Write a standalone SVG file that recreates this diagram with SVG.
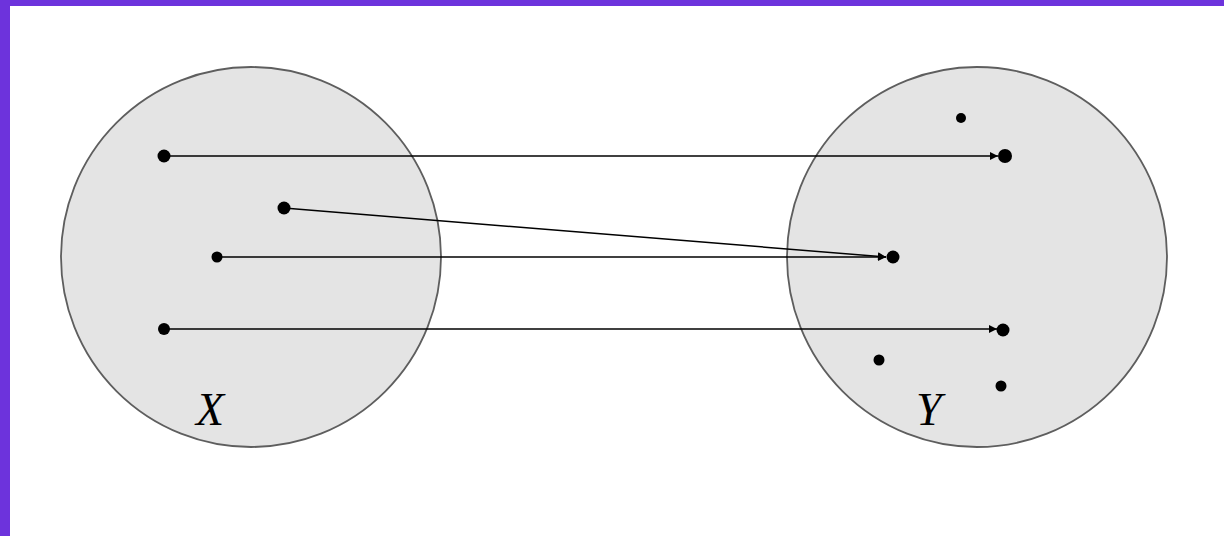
<svg xmlns="http://www.w3.org/2000/svg" width="1224" height="536" viewBox="0 0 1224 536">
<style>
.set{fill:#e4e4e4;stroke:#5e5e5e;stroke-width:1.8}
.pt{fill:#000}
.arr{stroke:#000;stroke-width:1.5;fill:none;marker-end:url(#ah)}
.lbl{font-family:"Liberation Serif",serif;font-style:italic;font-size:46px;fill:#000}
</style>
<defs>
<marker id="ah" viewBox="0 0 10 10" refX="10" refY="5" markerWidth="9" markerHeight="8" markerUnits="userSpaceOnUse" orient="auto">
<path d="M0,0 L10,5 L0,10 z" fill="#000"/>
</marker>
</defs>
<rect width="1224" height="536" fill="#fff"/>
<rect x="0" y="0" width="1224" height="6" fill="#6d33dc"/>
<rect x="0" y="0" width="10" height="536" fill="#6d33dc"/>
<g id="setX">
<circle class="set" cx="251" cy="257" r="190"/>
<circle class="pt" cx="164" cy="156" r="6.5"/>
<circle class="pt" cx="284" cy="208" r="6.5"/>
<circle class="pt" cx="217" cy="257" r="5.5"/>
<circle class="pt" cx="164" cy="329" r="6"/>
<text class="lbl" x="196" y="425">X</text>
</g>
<g id="setY">
<circle class="set" cx="977" cy="257" r="190"/>
<circle class="pt" cx="961" cy="118" r="5"/>
<circle class="pt" cx="1005" cy="156" r="7"/>
<circle class="pt" cx="893" cy="257" r="6.5"/>
<circle class="pt" cx="1003" cy="330" r="6.5"/>
<circle class="pt" cx="879" cy="360" r="5.5"/>
<circle class="pt" cx="1001" cy="386" r="5.5"/>
<text class="lbl" x="916" y="425">Y</text>
</g>
<g id="connectors">
<line class="arr" x1="164" y1="156" x2="998" y2="156"/>
<line class="arr" x1="284" y1="208" x2="886" y2="257"/>
<line class="arr" x1="217" y1="257" x2="886" y2="257"/>
<line class="arr" x1="164" y1="329" x2="997" y2="329"/>
</g>
</svg>
